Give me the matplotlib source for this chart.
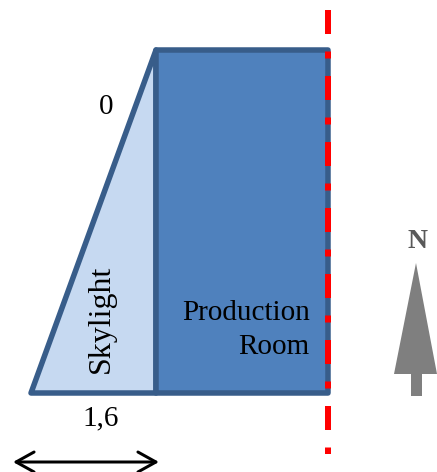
import matplotlib
matplotlib.use("Agg")
import matplotlib.pyplot as plt
from matplotlib.patches import Polygon, FancyArrowPatch

# everything is in reference pixels, y pointing down
W, H = 437, 472
PX = 0.72  # one pixel in points at dpi 100

room_x = [156, 328, 328, 156]
room_y = [50, 50, 393, 393]
skylight_x = [156, 156, 31]
skylight_y = [50, 393, 393]
boundary_x = [328, 328]
boundary_y = [10, 454]
boundary_dash = [24, 17.5, 7, 17.5]
north_x = [416, 437, 422, 422, 411, 411, 394]
north_y = [263, 374, 374, 396, 396, 374, 374]
span_x = [13, 159]
span_y = [462, 462]

stroke = "#385D8A"
room_fill = "#4F81BD"
sky_fill = "#C6D9F1"

plt.rcParams["font.family"] = ["Liberation Serif", "DejaVu Serif"]
plt.rcParams["lines.scale_dashes"] = False

fig = plt.figure(figsize=(W / 100, H / 100), dpi=100)
ax = fig.add_axes([0, 0, 1, 1])
ax.set_xlim(0, W)
ax.set_ylim(H, 0)
ax.axis("off")

# skylight then room, the room outline sits on top
ax.add_patch(Polygon(list(zip(skylight_x, skylight_y)), closed=True, fc=sky_fill,
                     ec=stroke, lw=5.5 * PX, joinstyle="round", zorder=1))
ax.add_patch(Polygon(list(zip(room_x, room_y)), closed=True, fc=room_fill,
                     ec=stroke, lw=5.5 * PX, joinstyle="round", zorder=2))

# property line
ax.plot(boundary_x, boundary_y, color="#FF0000", lw=6 * PX, solid_capstyle="butt",
        dash_capstyle="butt", dashes=[d * PX for d in boundary_dash], zorder=3)

# north arrow
ax.add_patch(Polygon(list(zip(north_x, north_y)), closed=True, fc="#7F7F7F", ec="none"))
ax.text(417, 242, "N", color="#595959", fontsize=20, fontweight="bold", ha="center", va="center")

# dimension arrow
ax.add_patch(FancyArrowPatch((span_x[0], span_y[0]), (span_x[1], span_y[1]),
                             arrowstyle="<->,head_length=%f,head_width=%f" % (18 * PX, 10 * PX),
                             mutation_scale=1, color="black", lw=3 * PX,
                             shrinkA=0, shrinkB=0, clip_on=True))

ax.text(106, 107, "0", fontsize=21, ha="center", va="center")
ax.text(101, 418, "1,6", fontsize=21, ha="center", va="center")
ax.text(101.5, 319, "Skylight", fontsize=23, rotation=90, ha="center", va="center")
ax.text(310, 312.5, "Production", fontsize=21, ha="right", va="center")
ax.text(309, 347, "Room", fontsize=21, ha="right", va="center")

fig.savefig("out.png", dpi=100)
